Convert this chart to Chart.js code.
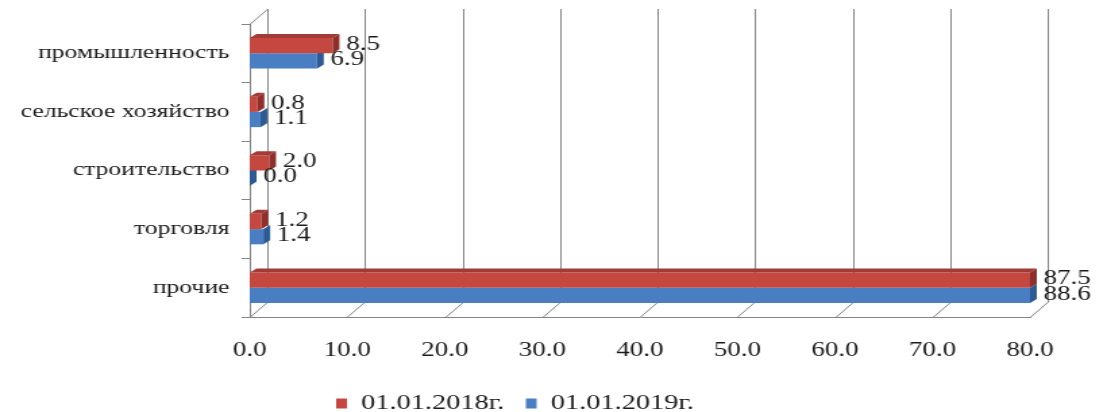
<!DOCTYPE html>
<html>
<head>
<meta charset="utf-8">
<script src="https://cdn.jsdelivr.net/npm/chart.js@4.4.1/dist/chart.umd.min.js"></script>
<style>
    html, body { margin: 0; padding: 0; background: #fff; overflow: hidden; }
    /* the source picture is stretched sideways, so the canvas is too */
    #wrap { width: 815px; height: 412px; transform: scaleX(1.35); transform-origin: 0 0; }
</style>
</head>
<body>
<div id="wrap"><canvas id="chart"></canvas></div>
<script>
var categories = ['промышленность', 'сельское хозяйство', 'строительство', 'торговля', 'прочие']
var series2018 = [8.5, 0.8, 2.0, 1.2, 87.5]
var series2019 = [6.9, 1.1, 0.0, 1.4, 88.6]
var seriesNames = ['01.01.2018г.', '01.01.2019г.']
var xTicks = [0, 10, 20, 30, 40, 50, 60, 70, 80]

var fontFamily = '"Liberation Serif", "Times New Roman", serif'
var wallDx = 13, wallDy = 15   // depth of the back wall
var barDx = 5, barDy = 4       // depth of a bar

// back wall, floor and grid of the 3D frame
var wallPlugin = {
    id: 'wall',
    beforeDatasetsDraw: function (chart) {
        var ctx = chart.ctx, a = chart.chartArea, xs = chart.scales.x
        ctx.save()
        ctx.strokeStyle = '#858585'
        ctx.lineWidth = 1
        ctx.beginPath()
        xTicks.forEach(function (v) {
            var px = Math.round(xs.getPixelForValue(v)) + 0.5
            ctx.moveTo(px + wallDx, a.top - wallDy)
            ctx.lineTo(px + wallDx, a.bottom - wallDy)
            ctx.lineTo(px, a.bottom)
        })
        ctx.moveTo(a.left + 0.5, a.top)
        ctx.lineTo(a.left + 0.5 + wallDx, a.top - wallDy)
        ctx.stroke()
        ctx.restore()
    }
}

function shade(i) {
    return i === 0 ? { top: '#a23b36', side: '#8e2f2b' } : { top: '#3b6aa6', side: '#2d5a92' }
}

// top and end faces of the bars
var barFacePlugin = {
    id: 'barFace',
    afterDatasetDraw: function (chart, args) {
        var ctx = chart.ctx, a = chart.chartArea, i = args.index
        var c = shade(i)
        ctx.save()
        args.meta.data.forEach(function (el) {
            var x0 = el.base, x1 = Math.min(el.x, a.right)
            var y0 = el.y - el.height / 2, y1 = el.y + el.height / 2
            if (i === 0) {
                ctx.fillStyle = c.top
                ctx.beginPath()
                ctx.moveTo(x0, y0)
                ctx.lineTo(x1, y0)
                ctx.lineTo(x1 + barDx, y0 - barDy)
                ctx.lineTo(x0 + barDx, y0 - barDy)
                ctx.closePath()
                ctx.fill()
            }
            ctx.fillStyle = c.side
            ctx.beginPath()
            ctx.moveTo(x1, y0)
            ctx.lineTo(x1 + barDx, y0 - barDy)
            ctx.lineTo(x1 + barDx, y1 - barDy)
            ctx.lineTo(x1, y1)
            ctx.closePath()
            ctx.fill()
        })
        ctx.restore()
    }
}

// value labels right of each bar
var valueLabelPlugin = {
    id: 'valueLabel',
    afterDatasetsDraw: function (chart) {
        var ctx = chart.ctx, a = chart.chartArea
        ctx.save()
        ctx.font = '20px ' + fontFamily
        ctx.fillStyle = '#1a1a1a'
        ctx.textAlign = 'left'
        ctx.textBaseline = 'middle'
        chart.data.datasets.forEach(function (ds, i) {
            chart.getDatasetMeta(i).data.forEach(function (el, j) {
                var x = Math.min(el.x, a.right) + barDx + 5
                ctx.fillText(ds.data[j].toFixed(1), x, el.y - 1)
            })
        })
        ctx.restore()
    }
}

new Chart(document.getElementById('chart'), {
    type: 'bar',
    data: {
        labels: categories,
        datasets: [
            { label: seriesNames[0], data: series2018, backgroundColor: '#c4483f', borderWidth: 0, clip: 0 },
            { label: seriesNames[1], data: series2019, backgroundColor: '#4a7ec2', borderWidth: 0, clip: 0 }
        ]
    },
    options: {
        indexAxis: 'y',
        responsive: true,
        maintainAspectRatio: false,
        animation: false,
        categoryPercentage: 0.52,
        barPercentage: 1.0,
        layout: { padding: { top: 24, right: 52, left: 0, bottom: 0 } },
        scales: {
            x: {
                min: 0,
                max: 80,
                ticks: {
                    stepSize: 10,
                    padding: 22,
                    color: '#1a1a1a',
                    font: { family: fontFamily, size: 20 },
                    callback: function (v) { return v.toFixed(1) }
                },
                grid: { display: false, drawTicks: false },
                border: { display: true, color: '#858585' },
                afterFit: function (scale) { scale.height = 60 }
            },
            y: {
                ticks: {
                    padding: 9,
                    color: '#1a1a1a',
                    font: { family: fontFamily, size: 19 }
                },
                grid: { display: true, drawOnChartArea: false, drawTicks: true, tickLength: 6, color: '#858585', offset: true },
                border: { display: true, color: '#858585' },
                afterFit: function (scale) { scale.width = 185 }
            }
        },
        plugins: {
            legend: {
                position: 'bottom',
                maxHeight: 35,
                labels: {
                    boxWidth: 8,
                    boxHeight: 10,
                    padding: 16,
                    color: '#1a1a1a',
                    font: { family: fontFamily, size: 21 }
                }
            },
            tooltip: { enabled: false }
        }
    },
    plugins: [wallPlugin, barFacePlugin, valueLabelPlugin]
})
</script>
</body>
</html>
